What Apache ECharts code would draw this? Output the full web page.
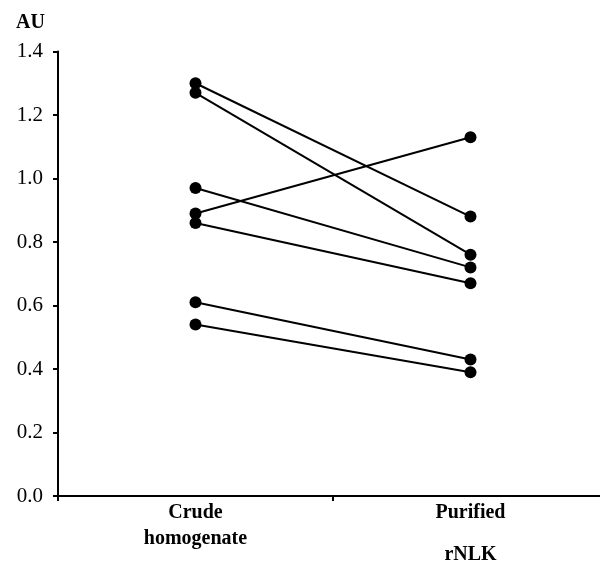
<!DOCTYPE html>
<html>
<head>
<meta charset="utf-8">
<script src="https://cdn.jsdelivr.net/npm/echarts@6/dist/echarts.min.js"></script>
<style>
  html, body { margin: 0; padding: 0; background: #fff; }
  #chart { width: 600px; height: 565px; }
</style>
</head>
<body>
<div id="chart"></div>
<script>
// x categories
const categories = ["Crude\nhomogenate", "Purified\n\nrNLK"];
// paired samples: value before (crude) and after (purified)
const crudeValues = [1.30, 1.27, 0.97, 0.89, 0.86, 0.61, 0.54];
const purifiedValues = [0.88, 0.76, 0.72, 1.13, 0.67, 0.43, 0.39];
const yTicks = { min: 0, max: 1.4, interval: 0.2 };

const serif = "'Liberation Serif', 'DejaVu Serif', serif";

const series = crudeValues.map(function (v, i) {
  return {
    type: "line",
    data: [v, purifiedValues[i]],
    symbol: "circle",
    symbolSize: 12,
    lineStyle: { color: "#000", width: 2 },
    itemStyle: { color: "#000" },
    emphasis: { disabled: true },
    animation: false,
  };
});

const myChart = echarts.init(document.getElementById("chart"));
myChart.setOption({
  backgroundColor: "#fff",
  title: {
    text: "AU",
    left: 11,
    top: 8,
    textStyle: { fontFamily: serif, fontSize: 20, fontWeight: "bold", color: "#000" },
  },
  grid: {
    left: 58,
    top: 51.5,
    width: 550,
    height: 444.5,
    containLabel: false,
    outerBoundsMode: "none",
  },
  xAxis: {
    type: "category",
    data: categories,
    boundaryGap: true,
    axisLine: { lineStyle: { color: "#000", width: 2 } },
    axisTick: { show: true, length: 5, lineStyle: { color: "#000", width: 2 } },
    axisLabel: {
      color: "#000",
      fontFamily: serif,
      fontSize: 20,
      fontWeight: "bold",
      lineHeight: 26,
      margin: 4,
      formatter: function (v) {
        // blank lines get a shorter line height
        return v.split("\n").map(function (l) { return l ? l : "{s| }"; }).join("\n");
      },
      rich: { s: { lineHeight: 16, fontSize: 10 } },
    },
    splitLine: { show: false },
  },
  yAxis: {
    type: "value",
    min: yTicks.min,
    max: yTicks.max,
    interval: yTicks.interval,
    axisLine: { show: true, lineStyle: { color: "#000", width: 2 } },
    axisTick: { show: true, length: 5, lineStyle: { color: "#000", width: 2 } },
    axisLabel: {
      color: "#000",
      fontFamily: serif,
      fontSize: 21,
      margin: 15,
      formatter: function (v) { return v.toFixed(1); },
    },
    splitLine: { show: false },
  },
  series: series,
});
</script>
</body>
</html>
